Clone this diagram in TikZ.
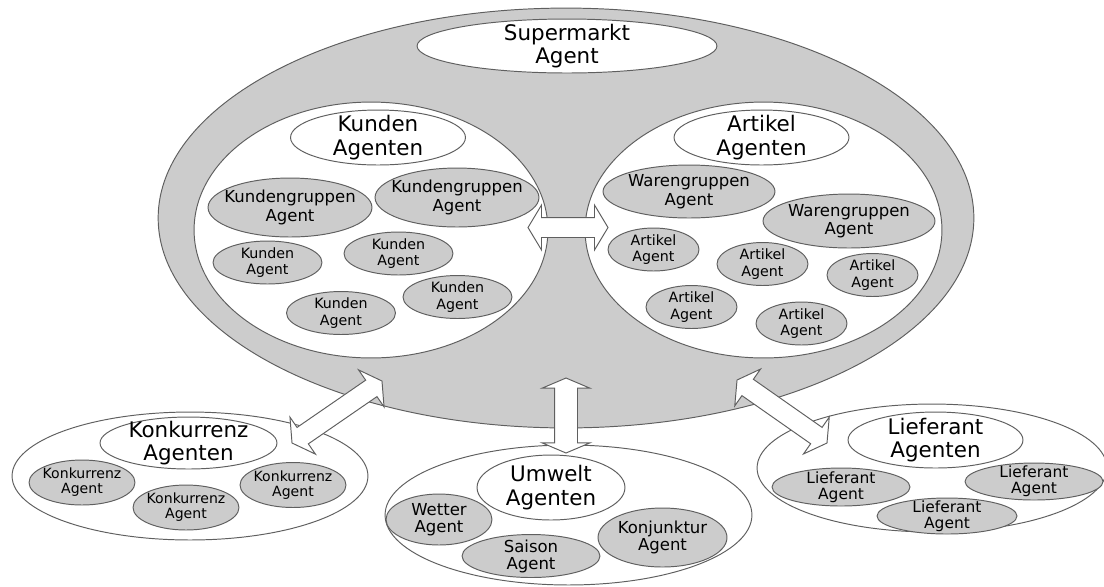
\documentclass[tikz,border=0pt]{standalone}
\usepackage{fontspec}
\setmainfont{DejaVu Sans}
\usetikzlibrary{shapes.geometric,shapes.arrows,calc}
\definecolor{fillgray}{RGB}{204,204,204}
\definecolor{linegray}{RGB}{95,95,95}
\newcommand\agentell[8]{%
  \node[ell={#4}{#5},fill=#6] (#1) at (#2,#3) {};
  \node[txt,#7] (#1t) at (#1.center) {#8};}
\newcommand\blockarrow[6]{%
  \path let \p1=($(#3)-(#2)$), \n1={atan2(\y1,\x1)}, \n2={veclen(\x1,\y1)} in
    node[blockarr, minimum height=\n2, minimum width=#5*0.02cm,
         inner ysep={#4*0.01cm},
         double arrow tip angle=#6, rotate=\n1] (#1) at ($(#2)!0.5!(#3)$) {};}
\begin{document}
\begin{tikzpicture}[x=0.02cm,y=-0.02cm,
  ell/.style 2 args={ellipse, draw=linegray, line width=0.55pt, inner sep=0pt,
    minimum width=#1*0.04cm, minimum height=#2*0.04cm},
  txt/.style={align=center, inner sep=0pt, text=black},
  big/.style={font=\fontsize{12.2}{13.3}\selectfont},
  grp/.style={font=\fontsize{9.4}{10.5}\selectfont},
  sm/.style={font=\fontsize{8.1}{9.5}\selectfont},
  kon/.style={font=\fontsize{8}{8.6}\selectfont},
  umt/.style={font=\fontsize{9.4}{9.6}\selectfont},
  lie/.style={font=\fontsize{8.8}{9}\selectfont},
  blockarr/.style={double arrow, draw=linegray, fill=white, line width=0.55pt,
    inner xsep=0pt, double arrow head indent=0pt}]
\useasboundingbox (0,0) rectangle (1104,586);

% Supermarkt
\node[ell={408}{210}, fill=fillgray] (super) at (566,218) {};
\agentell{superA}{567}{46}{150}{27}{white}{big}{Supermarkt\\Agent}
\node[ell={177}{128}, fill=white] (kund) at (371,230) {};
\node[ell={178.5}{128}, fill=white] (art) at (763.5,230) {};
\agentell{kundA}{378}{137.5}{87.5}{27.5}{white}{big}{Kunden\\Agenten}
\agentell{artA}{761.5}{137.5}{87.5}{27.5}{white}{big}{Artikel\\Agenten}

\agentell{kg1}{290}{207.5}{82}{29.5}{fillgray}{grp}{Kundengruppen\\Agent}
\agentell{kg2}{457}{197.5}{82}{29.5}{fillgray}{grp}{Kundengruppen\\Agent}
\agentell{ka1}{267.5}{262.5}{54.5}{21.5}{fillgray}{sm}{Kunden\\Agent}
\agentell{ka2}{398.5}{253.5}{54.5}{21.5}{fillgray}{sm}{Kunden\\Agent}
\agentell{ka3}{341}{313}{54.5}{21.5}{fillgray}{sm}{Kunden\\Agent}
\agentell{ka4}{457.5}{297}{54.5}{21.5}{fillgray}{sm}{Kunden\\Agent}

\agentell{wg1}{689}{191.5}{86}{26.5}{fillgray}{grp}{Warengruppen\\Agent}
\agentell{wg2}{849}{221}{86}{27}{fillgray}{grp}{Warengruppen\\Agent}
\agentell{aa1}{653.5}{249.5}{45.5}{21.5}{fillgray}{sm}{Artikel\\Agent}
\agentell{aa2}{762.5}{264}{45.5}{21.5}{fillgray}{sm}{Artikel\\Agent}
\agentell{aa3}{872.5}{275}{45.5}{21.5}{fillgray}{sm}{Artikel\\Agent}
\agentell{aa4}{691.5}{307}{45.5}{21.5}{fillgray}{sm}{Artikel\\Agent}
\agentell{aa5}{801.5}{323.5}{45.5}{21.5}{fillgray}{sm}{Artikel\\Agent}

% Konkurrenz
\node[ell={178}{64}, fill=white] (kon) at (190,476) {};
\agentell{konA}{188.5}{443}{88.5}{26}{white}{big}{Konkurrenz\\Agenten}
\agentell{ko1}{82}{482.5}{53}{22.5}{fillgray}{kon}{Konkurrenz\\Agent}
\agentell{ko2}{186}{507.5}{53}{22.5}{fillgray}{kon}{Konkurrenz\\Agent}
\agentell{ko3}{293}{485}{53}{22.5}{fillgray}{kon}{Konkurrenz\\Agent}

% Umwelt
\node[ell={183.5}{70}, fill=white] (umw) at (568.5,515) {};
\agentell{umwA}{551}{487.5}{74}{32.5}{white}{big}{Umwelt\\Agenten}
\agentell{we}{439}{519.5}{53}{25.5}{fillgray}{umt}{Wetter\\Agent}
\agentell{sa}{531}{556}{69}{21.5}{fillgray}{umt}{Saison\\Agent}
\agentell{kj}{662.5}{537.5}{64.5}{29.5}{fillgray}{umt}{Konjunktur\\Agent}

% Lieferant
\node[ell={175}{64}, fill=white] (lief) at (932,468) {};
\agentell{liefA}{935.5}{440}{87.5}{28}{white}{big}{Lieferant\\Agenten}
\agentell{li1}{841}{487}{69}{19}{fillgray}{lie}{Lieferant\\Agent}
\agentell{li2}{1034}{481.5}{69}{18.5}{fillgray}{lie}{Lieferant\\Agent}
\agentell{li3}{947}{516}{70}{18}{fillgray}{lie}{Lieferant\\Agent}

% arrow ends
\coordinate (ha1) at (528,227.5);
\coordinate (ha2) at (608,227.5);
\coordinate (va1) at (566,378);
\coordinate (va2) at (566,453);
\coordinate (la1) at (292,443);
\coordinate (la2) at (382,381);
\coordinate (ra1) at (737,380);
\coordinate (ra2) at (827,443);
\blockarrow{arrH}{ha1}{ha2}{19}{40}{118}
\blockarrow{arrV}{va1}{va2}{22}{46}{134}
\blockarrow{arrL}{la1}{la2}{19}{42}{120}
\blockarrow{arrR}{ra1}{ra2}{19}{42}{120}
\end{tikzpicture}
\end{document}
